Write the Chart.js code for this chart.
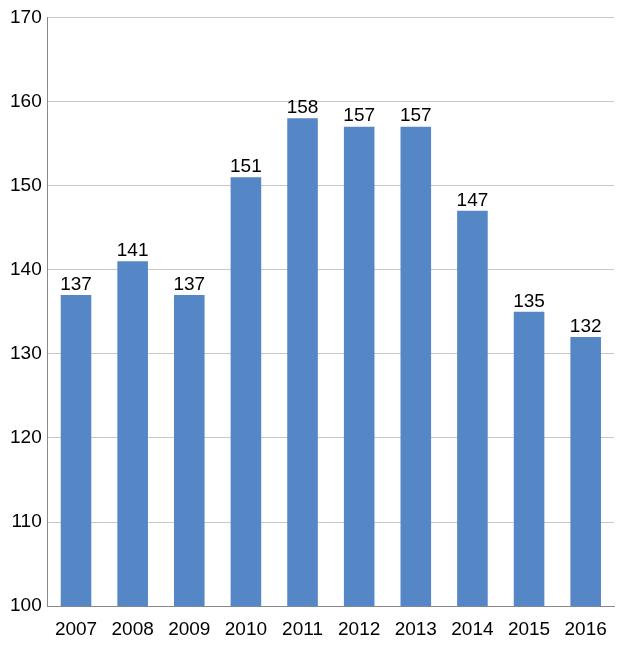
<!DOCTYPE html>
<html>
<head>
<meta charset="UTF-8">
<script src="https://cdn.jsdelivr.net/npm/chart.js"></script>
<style>
  body { margin: 0; background: #fff; }
  #wrap { width: 620px; height: 653px; }
</style>
</head>
<body>
<div id="wrap"><canvas id="c"></canvas></div>
<script>
const years = ['2007','2008','2009','2010','2011','2012','2013','2014','2015','2016'];
const values = [137, 141, 137, 151, 158, 157, 157, 147, 135, 132];

const barLabels = {
  id: 'barLabels',
  afterDatasetsDraw(chart) {
    const ctx = chart.ctx;
    ctx.save();
    ctx.font = '19px "Liberation Sans", Arial, sans-serif';
    ctx.fillStyle = '#000';
    ctx.textAlign = 'center';
    ctx.textBaseline = 'bottom';
    chart.getDatasetMeta(0).data.forEach((bar, i) => {
      ctx.fillText(values[i], bar.x, bar.y - 1);
    });
    ctx.restore();
  }
};

new Chart(document.getElementById('c'), {
  type: 'bar',
  data: {
    labels: years,
    datasets: [{
      data: values,
      backgroundColor: '#5586C6',
      categoryPercentage: 1,
      barPercentage: 0.54
    }]
  },
  options: {
    responsive: true,
    maintainAspectRatio: false,
    animation: false,
    layout: { padding: { top: 15, right: 6, bottom: 8, left: 4 } },
    plugins: { legend: { display: false }, tooltip: { enabled: false } },
    scales: {
      x: {
        grid: { display: false },
        border: { color: '#888' },
        ticks: { color: '#000', font: { size: 19, family: '"Liberation Sans", Arial, sans-serif' }, padding: 4 }
      },
      y: {
        min: 100, max: 170,
        ticks: { stepSize: 10, color: '#000', padding: 6, font: { size: 19, family: '"Liberation Sans", Arial, sans-serif' } },
        grid: { color: '#c8c8c8', drawTicks: false },
        border: { color: '#888' }
      }
    }
  },
  plugins: [barLabels]
});
</script>
</body>
</html>
